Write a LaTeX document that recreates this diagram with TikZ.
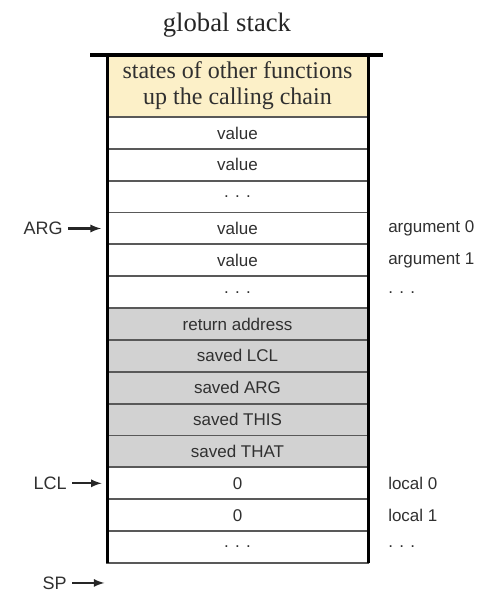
\documentclass[tikz,border=0pt]{standalone}
\usepackage{fontspec}
\setmainfont{Liberation Serif}
\setsansfont{Liberation Sans}
\usetikzlibrary{arrows}
\usetikzlibrary{positioning}

\definecolor{chainyellow}{HTML}{FCF0C8}
\definecolor{savedgray}{HTML}{D2D2D2}
\definecolor{inkgray}{HTML}{303030}

\begin{document}
\begin{tikzpicture} [node distance=0pt, text=inkgray, font=\sffamily\fontsize{12.75}{15}\selectfont,
  cell/.style={draw=black!65, line width=1.4pt, fill=white, minimum width=195.75pt, minimum height=23.89pt, inner sep=0pt, outer sep=0pt},
  saved/.style={cell, fill=savedgray},
  tag/.style={inner sep=0pt},
  ptr/.style={inner sep=0pt, font=\sffamily\fontsize{13.5}{15}\selectfont},
  pointer/.style={-latex, line width=1.7pt, black!85}]

  \useasboundingbox (0,0) rectangle (361.5pt,-450pt);

  % frames of the callers
  \node[cell, fill=chainyellow, minimum height=46.5pt, align=center, font=\rmfamily\fontsize{18}{19.5}\selectfont] (0) at (178.125pt,-64.5pt) {states of other functions\\up the calling chain};
  \node (title) [above=10pt of 0, xshift=-7.9pt, font=\rmfamily\fontsize{20}{22}\selectfont, text=black!85] {global stack};

  \node[cell] (1) [below=of 0] {value};
  \node[cell] (2) [below=of 1] {value};
  \node[cell] (3) [below=of 2] {. . .};
  \node[cell] (4) [below=of 3] {value};
  \node[cell] (5) [below=of 4] {value};
  \node[cell] (6) [below=of 5] {. . .};
  \node[saved] (7) [below=of 6] {return address};
  \node[saved] (8) [below=of 7] {saved LCL};
  \node[saved] (9) [below=of 8] {saved ARG};
  \node[saved] (10) [below=of 9] {saved THIS};
  \node[saved] (11) [below=of 10] {saved THAT};
  \node[cell] (12) [below=of 11] {0};
  \node[cell] (13) [below=of 12] {0};
  \node[cell] (14) [below=of 13] {. . .};

  % walls of the stack
  \draw[line width=2.25pt] (0.north west) -- (14.south west);
  \draw[line width=2.25pt] (0.north east) -- (14.south east);
  \draw[line width=3pt] ([xshift=-12.75pt]0.north west) -- ([xshift=11.25pt]0.north east);

  % segment names
  \node[tag] (a0) [right=15pt of 4] {argument 0};
  \node[tag] (a1) [right=15pt of 5] {argument 1};
  \node[tag] (a2) [right=15pt of 6] {. . .};
  \node[tag] (l0) [right=15pt of 12] {local 0};
  \node[tag] (l1) [right=15pt of 13] {local 1};
  \node[tag] (l2) [right=15pt of 14] {. . .};

  % pointers
  \coordinate (free) at ([yshift=-15pt]14.south west);
  \node[ptr] (arg) [left=33pt of 4] {ARG};
  \node[ptr] (lcl) [left=30pt of 12] {LCL};
  \node[ptr] (sp) [left=30pt of free] {SP};

  \draw[pointer] ([xshift=4pt]arg.east) -- ([xshift=-4.5pt]4.west);
  \draw[pointer] ([xshift=4pt]lcl.east) -- ([xshift=-4pt]12.west);
  \draw[pointer] ([xshift=4pt]sp.east) -- ([xshift=-2pt]free);
\end{tikzpicture}
\end{document}
